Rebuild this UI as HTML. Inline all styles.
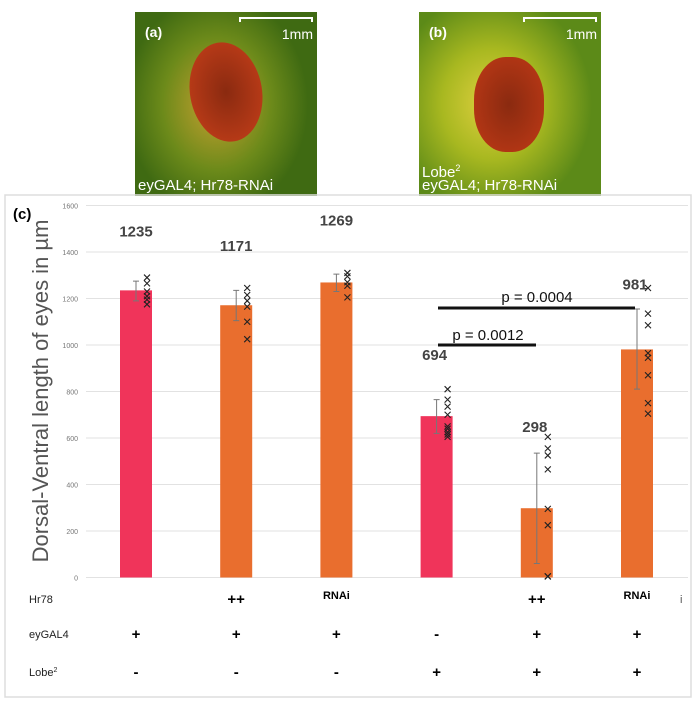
<!DOCTYPE html>
<html><head><meta charset="utf-8">
<style>
body{margin:0;width:700px;height:702px;background:#fff;position:relative;overflow:hidden;font-family:"Liberation Sans",sans-serif}
.ph{position:absolute;top:12px;width:182px;height:184px;overflow:hidden}
.cap{position:absolute;color:#fff;font-size:15px;left:3px;line-height:16px}
.lab{position:absolute;color:#fff;font-weight:bold;font-size:14px;left:10px;top:12px}
.sb{position:absolute;top:5px;right:4px;width:74px;height:5px;border-left:2px solid #fff;border-right:2px solid #fff;border-top:2px solid #fff;box-sizing:border-box}
.sbt{position:absolute;top:14px;right:4px;color:#fff;font-size:14px}
</style></head><body>
<div class="ph" style="left:135px;background:radial-gradient(ellipse 50% 60% at 45% 50%,#c9a030 0%,#6c8a1a 60%,#3f6a12 100%)">
 <div style="position:absolute;left:55px;top:30px;width:72px;height:100px;border-radius:50%;background:radial-gradient(#8a2a10,#c8401a);transform:rotate(-10deg)"></div>
 <div class="lab">(a)</div><div class="sb"></div><div class="sbt">1mm</div>
 <div class="cap" style="top:166px">eyGAL4; Hr78-RNAi</div>
</div>
<div class="ph" style="left:419px;background:radial-gradient(ellipse 55% 60% at 40% 50%,#e0d040 0%,#a8b820 50%,#5c8a18 100%)">
 <div style="position:absolute;left:55px;top:45px;width:70px;height:95px;border-radius:45%;background:radial-gradient(#8a2a10,#c03a16)"></div>
 <div class="lab">(b)</div><div class="sb"></div><div class="sbt">1mm</div>
 <div class="cap" style="top:148px">Lobe<sup style="font-size:9px">2</sup></div>
 <div class="cap" style="top:166px">eyGAL4; Hr78-RNAi</div>
</div>
<svg id="c" width="700" height="702" style="position:absolute;left:0;top:0"></svg>
<script>
const categories=["1","2","3","4","5","6"];
const means=[1235,1171,1269,694,298,981];
const errLo=[1190,1105,1230,620,60,810];
const errHi=[1275,1235,1305,765,535,1155];
const colors=["#f0345a","#e96e2e","#e96e2e","#f0345a","#e96e2e","#e96e2e"];
const points=[[1290,1265,1230,1210,1195,1175],[1245,1215,1190,1165,1100,1025],[1310,1295,1270,1255,1205],[810,765,735,700,650,640,625,615,605],[605,555,525,465,295,225,5,5,5],[1245,1135,1085,965,945,870,750,705]];
const ticks=[0,200,400,600,800,1000,1200,1400,1600];
const rowHr78=["","++","RNAi","","++","RNAi"];
const rowGal=["+","+","+","-","+","+"];
const rowLobe=["-","-","-","+","+","+"];
const svg=document.getElementById('c');const NS='http://www.w3.org/2000/svg';
const y=v=>577.5-v*0.2325;const x=i=>136+i*100.2;
function mk(t,a,txt){const e=document.createElementNS(NS,t);for(const k in a)e.setAttribute(k,a[k]);if(txt!=null)e.textContent=txt;svg.appendChild(e);return e;}
let e=mk('rect',{x:5,y:195,width:686,height:502,fill:'none',stroke:'#ddd','stroke-width':1.5});

e=mk('text',{x:13,y:219,'font-size':15,'font-weight':'bold'},'(c)');

ticks.forEach(t=>{let g=mk('line',{x1:86,x2:688,y1:y(t),y2:y(t),stroke:'#e2e2e2','stroke-width':1});

let l=mk('text',{x:78,y:y(t)+3,'font-size':7,fill:'#777','text-anchor':'end'},t);
});
e=mk('text',{x:0,y:0,'font-size':22,fill:'#555','text-anchor':'middle',transform:'translate(48,391) rotate(-90)'},'Dorsal-Ventral length of eyes in µm');

const labOff=[54,54,57,56,76,60];
means.forEach((m,i)=>{
 let b=mk('rect',{x:x(i)-16,y:y(m),width:32,height:y(0)-y(m),fill:colors[i]});
 
 let eb=mk('path',{d:`M${x(i)} ${y(errLo[i])}V${y(errHi[i])}M${x(i)-3} ${y(errLo[i])}h6M${x(i)-3} ${y(errHi[i])}h6`,stroke:'#777','stroke-width':1,fill:'none'});
 
 points[i].forEach(p=>{let px=x(i)+11,py=y(p);
  let pt=mk('path',{d:`M${px-3} ${py-3}l6 6M${px+3} ${py-3}l-6 6`,stroke:'#222','stroke-width':1.1});
  });
 let lb=mk('text',{x:x(i)+(i>2?-2:0),y:y(m)-labOff[i],'font-size':15,'font-weight':'bold',fill:'#444','text-anchor':'middle'},m);
 
});
e=mk('line',{x1:438,x2:635,y1:308,y2:308,stroke:'#111','stroke-width':3});
e=mk('text',{x:537,y:302,'font-size':15,'text-anchor':'middle',fill:'#111'},'p = 0.0004');
e=mk('line',{x1:438,x2:536,y1:345,y2:345,stroke:'#111','stroke-width':3});
e=mk('text',{x:488,y:340,'font-size':15,'text-anchor':'middle',fill:'#111'},'p = 0.0012');
[["Hr78",rowHr78,603],["eyGAL4",rowGal,638],["Lobe",rowLobe,676]].forEach((r,ri)=>{
 let t=mk('text',{x:29,y:r[2],'font-size':11,fill:'#222'},r[0]);
 if(ri==2){let s=document.createElementNS(NS,'tspan');s.setAttribute('font-size',7);s.setAttribute('dy',-4);s.textContent='2';t.appendChild(s);}
 
 r[1].forEach((v,i)=>{let big=v!=="RNAi";
  let c=mk('text',{x:x(i),y:r[2]+(ri==0&&!big?-4:1),'font-size':big?15:11,'font-weight':'bold','text-anchor':'middle'},v);
  });
});
e=mk('text',{x:680,y:603,'font-size':11,fill:'#555'},'i');
</script>
</body></html>
